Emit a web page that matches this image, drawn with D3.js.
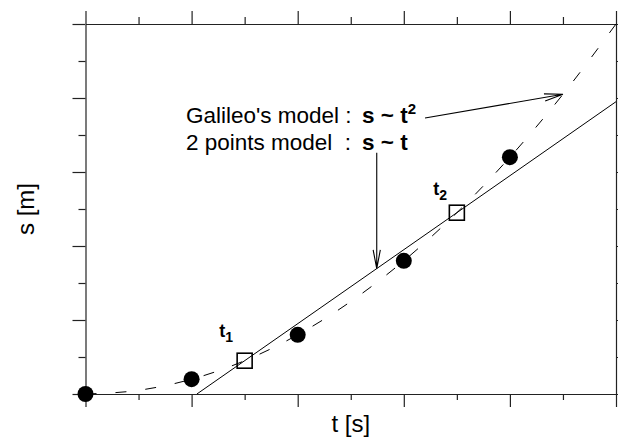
<!DOCTYPE html>
<html><head><meta charset="utf-8">
<script src="https://cdn.jsdelivr.net/npm/d3@7"></script>
<style>
html,body{margin:0;padding:0;background:#fff;}
svg{display:block;font-family:"Liberation Sans",Arial,sans-serif;}
</style></head>
<body>
<svg id="chart" width="618" height="437"></svg>
<script>
// ---- data ----
const measureTimes = [0, 1, 2, 3, 4];
const measureDist = [0, 0.4, 1.6, 3.6, 6.4];
const pickTimes = [1.5, 3.5];
const pickDist = [0.9, 4.9];
const pickLabels = ["1", "2"];
const galileoTimes = [0, 0.5, 1, 1.5, 2, 2.5, 3, 3.5, 4, 4.5, 5];
const galileoDist = [0, 0.1, 0.4, 0.9, 1.6, 2.5, 3.6, 4.9, 6.4, 8.1, 10];
const linearTimes = [1.05, 5];
const linearDist = [0, 7.9];
const xTicks = [0, 0.5, 1, 1.5, 2, 2.5, 3, 3.5, 4, 4.5, 5];
const yTicks = [0, 1, 2, 3, 4, 5, 6, 7, 8, 9, 10];
// annotation arrows: [tStart, sStart, tEnd, sEnd]
const arrowGalileo = [3.2, 7.46, 4.5, 8.1];
const arrowLinear = [2.745, 6.52, 2.745, 3.39];

const svg = d3.select("#chart");
const x = d3.scaleLinear().domain([0, 5]).range([85.5, 616]);
const y = d3.scaleLinear().domain([0, 10]).range([394, 24]);

const isMajorX = v => Math.abs(v - Math.round(v)) < 1e-6;
const isMajorY = v => Math.round(v) % 2 === 0;

function styleAxis(g) {
  g.select(".domain").attr("stroke", "#222").attr("stroke-width", 1.2);
  g.selectAll(".tick line").attr("stroke", "#222").attr("stroke-width", 1.2);
  g.selectAll(".tick text").remove();
}
const axB = svg.append("g").attr("transform", `translate(0,${y(0)})`)
  .call(d3.axisBottom(x).tickValues(xTicks).tickSizeOuter(0).tickFormat(""));
axB.selectAll(".tick line").attr("y2", d => isMajorX(d) ? 13 : 6);
styleAxis(axB);
const axT = svg.append("g").attr("transform", `translate(0,${y(10)})`)
  .call(d3.axisTop(x).tickValues(xTicks).tickSizeOuter(0).tickFormat(""));
axT.selectAll(".tick line").attr("y2", d => isMajorX(d) ? -13 : -7);
styleAxis(axT);
const axL = svg.append("g").attr("transform", `translate(${x(0)},0)`)
  .call(d3.axisLeft(y).tickValues(yTicks).tickSizeOuter(0).tickFormat(""));
axL.selectAll(".tick line").attr("x2", d => isMajorY(d) ? -13 : -7);
styleAxis(axL);
const axR = svg.append("g").attr("transform", `translate(${x(5)},0)`)
  .call(d3.axisRight(y).tickValues(yTicks).tickSizeOuter(0).tickFormat(""));
axR.selectAll(".tick line").attr("x2", d => isMajorY(d) ? 13 : 7);
styleAxis(axR);

// Galileo dashed curve
const galPts = galileoTimes.map((t, i) => [t, galileoDist[i]]);
svg.append("path")
  .attr("d", d3.line().x(d => x(d[0])).y(d => y(d[1])).curve(d3.curveMonotoneX)(galPts))
  .attr("fill", "none").attr("stroke", "#000").attr("stroke-width", 1)
  .attr("stroke-dasharray", "11,19");

// linear model
const linPts = linearTimes.map((t, i) => [t, linearDist[i]]);
svg.append("path")
  .attr("d", d3.line().x(d => x(d[0])).y(d => y(d[1]))(linPts))
  .attr("fill", "none").attr("stroke", "#000").attr("stroke-width", 1);

// measured points
svg.selectAll("circle.pt").data(measureTimes).join("circle")
  .attr("class", "pt")
  .attr("cx", d => x(d)).attr("cy", (d, i) => y(measureDist[i]))
  .attr("r", 8).attr("fill", "#000");

// chosen points (open squares)
svg.selectAll("rect.pk").data(pickTimes).join("rect")
  .attr("class", "pk")
  .attr("x", d => x(d) - 7.5).attr("y", (d, i) => y(pickDist[i]) - 7.5)
  .attr("width", 15).attr("height", 15)
  .attr("fill", "none").attr("stroke", "#000").attr("stroke-width", 1.6);

const labelOffsets = [[-25.5, -23.5], [-23.5, -17.5]];
pickTimes.forEach((t, i) => {
  const tx = x(t) + labelOffsets[i][0], ty = y(pickDist[i]) + labelOffsets[i][1];
  const txt = svg.append("text").attr("x", tx).attr("y", ty)
    .attr("font-weight", "bold").attr("font-size", 18).attr("fill", "#000");
  txt.append("tspan").text("t");
  txt.append("tspan").attr("dy", 5).attr("font-size", 14).text(pickLabels[i]);
});

// annotation text
const ann = svg.append("g").attr("fill", "#000").attr("font-size", 22.5);
ann.append("text").attr("x", 186).attr("y", 123).text("Galileo's model :");
const b1 = ann.append("text").attr("x", 362).attr("y", 123).attr("font-weight", "bold");
b1.append("tspan").text("s ~ t");
b1.append("tspan").attr("dy", -9).attr("font-size", 15).text("2");
ann.append("text").attr("x", 186).attr("y", 150).style("white-space", "pre").text("2 points model  :");
ann.append("text").attr("x", 362).attr("y", 150).attr("font-weight", "bold").text("s ~ t");

// arrows
function arrow(a) {
  const x0 = x(a[0]), y0 = y(a[1]), x1 = x(a[2]), y1 = y(a[3]);
  const ang = Math.atan2(y1 - y0, x1 - x0);
  const L = 19, spread = 0.19;
  const p = d3.path();
  p.moveTo(x0, y0); p.lineTo(x1, y1);
  p.moveTo(x1 - L * Math.cos(ang - spread), y1 - L * Math.sin(ang - spread));
  p.lineTo(x1, y1);
  p.lineTo(x1 - L * Math.cos(ang + spread), y1 - L * Math.sin(ang + spread));
  svg.append("path").attr("d", p.toString()).attr("fill", "none")
    .attr("stroke", "#000").attr("stroke-width", 1.1);
}
arrow(arrowGalileo);
arrow(arrowLinear);

// axis titles
svg.append("text").attr("x", (x(0) + x(5)) / 2).attr("y", 432)
  .attr("text-anchor", "middle").attr("font-size", 24).text("t [s]");
svg.append("text").attr("transform", `translate(34,${(y(0) + y(10)) / 2}) rotate(-90)`)
  .attr("text-anchor", "middle").attr("font-size", 24).text("s [m]");
</script>
</body></html>
